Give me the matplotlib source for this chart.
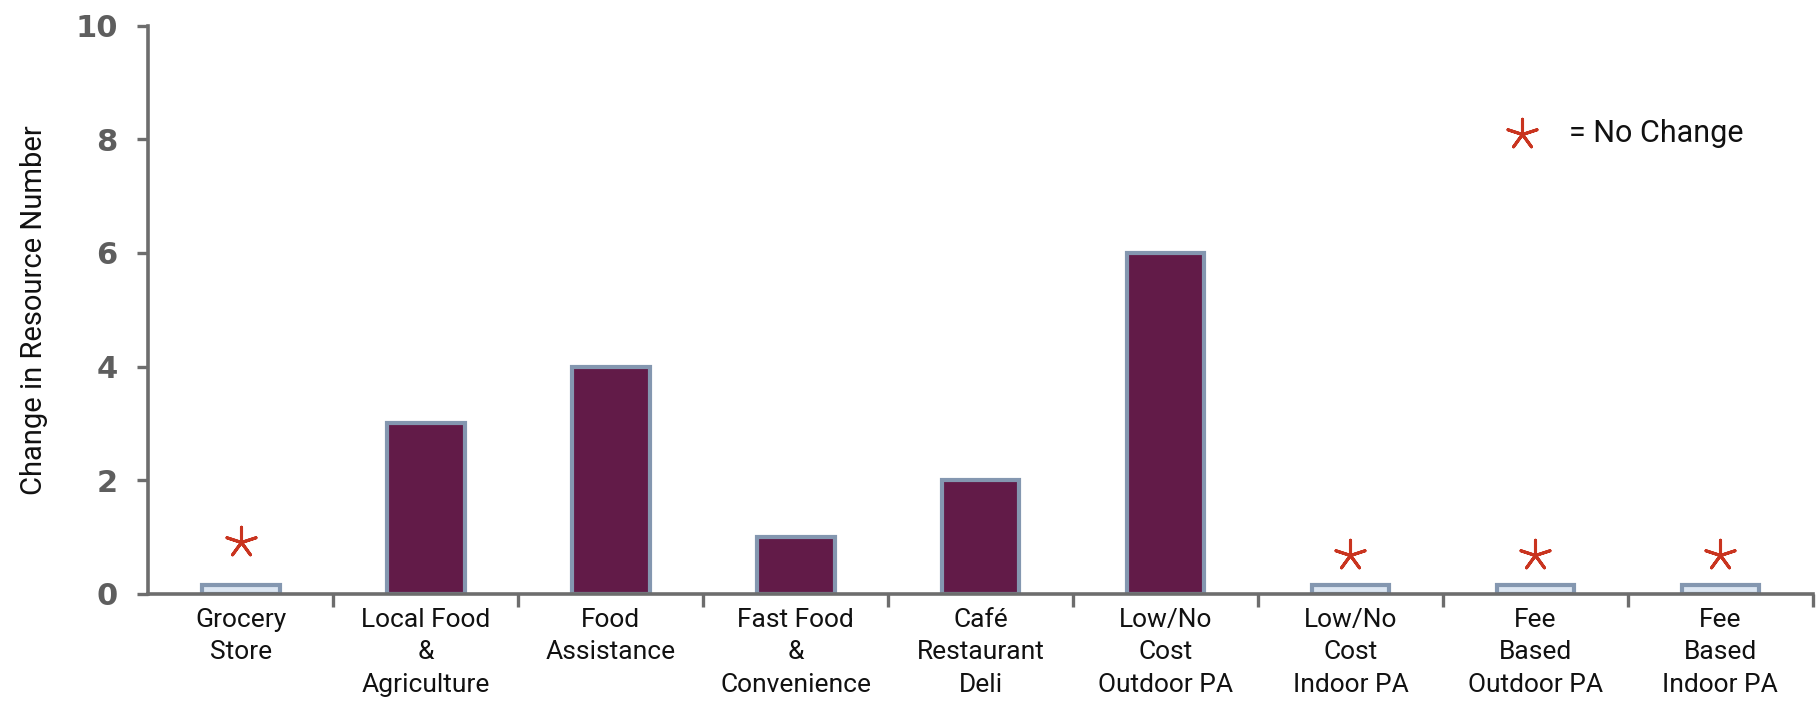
import numpy as np
import matplotlib.pyplot as plt

# data
categories = ["Grocery\nStore", "Local Food\n&\nAgriculture", "Food\nAssistance",
              "Fast Food\n&\nConvenience", "Café\nRestaurant\nDeli", "Low/No\nCost\nOutdoor PA",
              "Low/No\nCost\nIndoor PA", "Fee\nBased\nOutdoor PA", "Fee\nBased\nIndoor PA"]
change = [0, 3, 4, 1, 2, 6, 0, 0, 0]
star_y = [0.92, None, None, None, None, None, 0.69, 0.69, 0.69]
yticks = [0, 2, 4, 6, 8, 10]

THIN = ["Roboto", "DejaVu Sans"]

fig = plt.figure(figsize=(18.19, 7.11), dpi=100)
ax = fig.add_axes([0.0816, 0.1646, 0.915, 0.7994])

x = np.arange(len(categories))
# "no change" bars are drawn as thin light stubs
heights = [v if v != 0 else 0.15 for v in change]
fills = ["#621B48" if v != 0 else "#DCE6F2" for v in change]
ax.bar(x, heights, width=0.42, color=fills, edgecolor="#8497B0", linewidth=3, zorder=2)

for xi, sy in zip(x, star_y):
    if sy is not None:
        ax.scatter(xi, sy, marker=(5, 2, 0), s=480, color="#C9341F", linewidths=2.2, zorder=3)

# legend for the star
ax.scatter(6.93, 8.1, marker=(5, 2, 0), s=480, color="#C9341F", linewidths=2.2, clip_on=False)
ax.text(7.18, 8.1, "= No Change", fontsize=22, va="center", ha="left", family=THIN, color="#111111")

ax.set_xlim(-0.5, len(categories) - 0.5)
ax.set_ylim(0, 10)
ax.set_yticks(yticks)
ax.set_yticklabels([str(t) for t in yticks], fontsize=22, fontweight="bold", color="#5E5E5E")
ax.set_xticks(x)
ax.set_xticklabels(categories, fontsize=19, family=THIN, linespacing=1.45, color="#111111")
ax.tick_params(axis="x", length=0, pad=10)
ax.tick_params(axis="y", length=8, width=2.4, color="#6D6D6D", pad=14)

# ticks between the categories on the x axis
ax.set_xticks(np.arange(len(categories)) + 0.5, minor=True)
ax.tick_params(axis="x", which="minor", length=9, width=2.4, color="#6D6D6D")

for s in ["top", "right"]:
    ax.spines[s].set_visible(False)
for s in ["left", "bottom"]:
    ax.spines[s].set_color("#6D6D6D")
    ax.spines[s].set_linewidth(2.6)

ax.set_ylabel("Change in Resource Number", fontsize=21, family=THIN, labelpad=20, color="#111111")

fig.savefig("out.png", dpi=100)
